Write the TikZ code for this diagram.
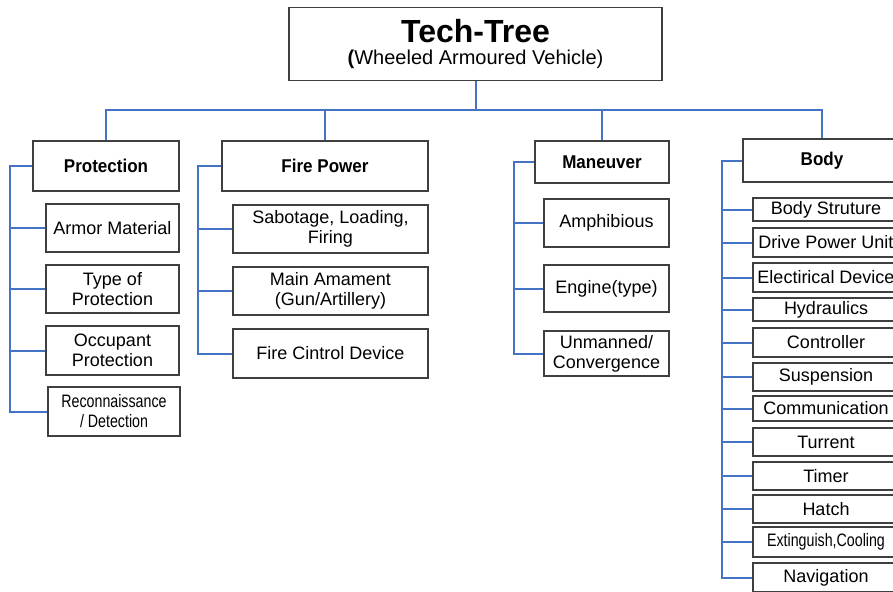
\documentclass[tikz,border=0pt]{standalone}
\usepackage{fontspec}
\setmainfont{Liberation Sans}
\usepackage{graphicx}
\definecolor{boxgray}{HTML}{3F3F3F}
\definecolor{linkblue}{HTML}{4472C4}
\newcommand{\tightlbl}[2][0.92]{\scalebox{#1}[1]{#2}}

\begin{document}
\begin{tikzpicture}[x=1pt, y=-1pt,
  every node/.style={font=\fontsize{18}{20}\selectfont},
  box/.style={draw=boxgray, line width=1.2pt, align=center, inner sep=0pt},
  head/.style={box, font=\fontsize{18.5}{20}\selectfont\bfseries},
  link/.style={draw=linkblue, line width=2pt}]
\useasboundingbox (0,0) rectangle (893,591);
\clip (0,0) rectangle (893,591);

\node[box, minimum width=373, minimum height=73, font=\fontsize{20}{22}\selectfont] (root) at (475.5,44)
  {{\fontsize{32}{22}\selectfont\bfseries Tech-Tree}\\{\bfseries (}Wheeled Armoured Vehicle)};

\node[head, minimum width=146, minimum height=50] (prot) at (106,166) {\tightlbl{Protection}};
\node[head, minimum width=206, minimum height=50] (fire) at (325,166) {\tightlbl{Fire Power}};
\node[head, minimum width=134, minimum height=42] (man) at (602,162) {\tightlbl{Maneuver}};
\node[head, minimum width=158, minimum height=43] (body) at (822,160.5) {\tightlbl{Body}};

\node[box, minimum width=133, minimum height=48] (armor) at (112.5,228) {Armor Material};
\node[box, minimum width=133, minimum height=48] (typeprot) at (112.5,289) {Type of\\Protection};
\node[box, minimum width=133, minimum height=49] (occup) at (112.5,350.5) {Occupant\\Protection};
\node[box, minimum width=132, minimum height=49] (recon) at (114,411.5) {\tightlbl[0.79]{Reconnaissance}\\\tightlbl[0.79]{/ Detection}};

\node[box, minimum width=195, minimum height=48] (sabot) at (330.5,229) {Sabotage, Loading,\\Firing};
\node[box, minimum width=195, minimum height=48] (mainarm) at (330.5,291) {Main Amament\\(Gun/Artillery)};
\node[box, minimum width=195, minimum height=49] (firectl) at (330.5,353.5) {Fire Cintrol Device};

\node[box, minimum width=125, minimum height=48] (amph) at (606.5,223) {Amphibious};
\node[box, minimum width=125, minimum height=47] (engine) at (606.5,288.5) {Engine(type)};
\node[box, minimum width=125, minimum height=45] (unman) at (606.5,353.5) {Unmanned/\\Convergence};

\node[box, minimum width=146, minimum height=23] (bstruct) at (826,209.5) {Body Struture};
\node[box, minimum width=146, minimum height=29] (drive) at (826,242.5) {Drive Power Unit};
\node[box, minimum width=146, minimum height=29] (elec) at (826,277.5) {Electirical Device};
\node[box, minimum width=146, minimum height=23] (hydr) at (826,309.5) {Hydraulics};
\node[box, minimum width=146, minimum height=29] (ctrl) at (826,342.5) {Controller};
\node[box, minimum width=146, minimum height=28] (susp) at (826,377) {Suspension};
\node[box, minimum width=146, minimum height=25] (comm) at (826,408.5) {Communication};
\node[box, minimum width=146, minimum height=28] (turr) at (826,442) {Turrent};
\node[box, minimum width=146, minimum height=28] (timer) at (826,476) {Timer};
\node[box, minimum width=146, minimum height=28] (hatch) at (826,509) {Hatch};
\node[box, minimum width=146, minimum height=30] (ext) at (826,542) {\tightlbl[0.79]{Extinguish,Cooling}};
\node[box, minimum width=146, minimum height=29] (nav) at (826,577.5) {Navigation};

\coordinate (bus) at (475.5,110);
\draw[link] (root.south) -- (bus);
\foreach \h in {prot,fire,man,body}
  \draw[link] (bus) -| (\h.north);

\coordinate (pbus) at (10,0);
\draw[link] (prot.west) -- (prot.west -| pbus) |- (recon.west);
\foreach \c in {armor,typeprot,occup}
  \draw[link] (\c.west -| pbus) -- (\c.west);

\coordinate (fbus) at (198,0);
\draw[link] (fire.west) -- (fire.west -| fbus) |- (firectl.west);
\foreach \c in {sabot,mainarm}
  \draw[link] (\c.west -| fbus) -- (\c.west);

\coordinate (mbus) at (514,0);
\draw[link] (man.west) -- (man.west -| mbus) |- (unman.west);
\foreach \c in {amph,engine}
  \draw[link] (\c.west -| mbus) -- (\c.west);

\coordinate (bbus) at (722,0);
\draw[link] (body.west) -- (body.west -| bbus) |- (nav.west);
\foreach \c in {bstruct,drive,elec,hydr,ctrl,susp,comm,turr,timer,hatch,ext}
  \draw[link] (\c.west -| bbus) -- (\c.west);
\end{tikzpicture}
\end{document}
